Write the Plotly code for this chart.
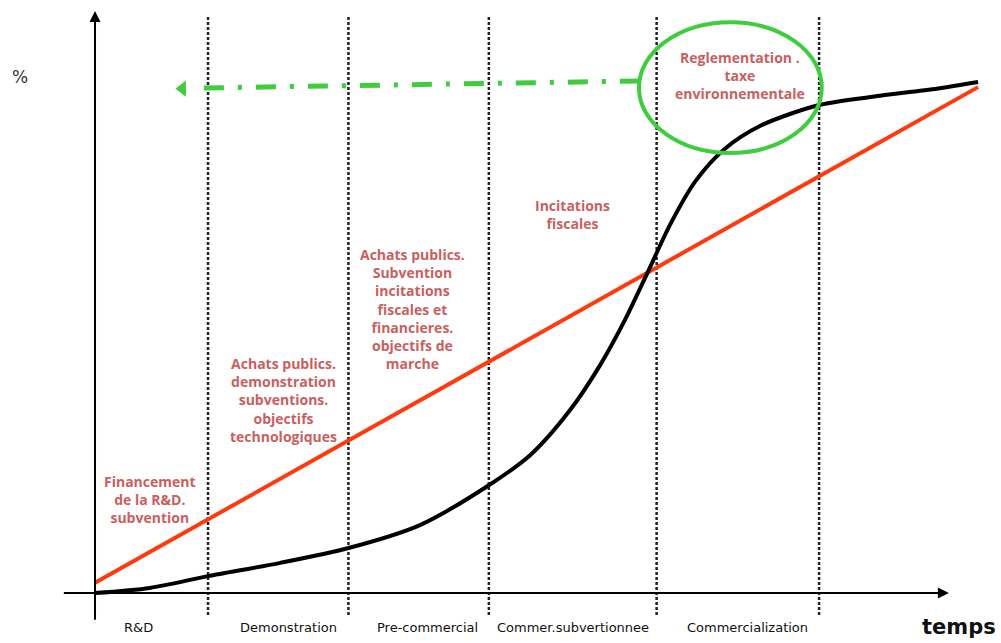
import plotly.graph_objects as go

# time axis (arbitrary units, 0 = origin, 10 = right end of curves)
stage_bounds = [1.28, 2.87, 4.46, 6.36, 8.2]
stage_names = ["R&D", "Demonstration", "Pre-commercial", "Commer.subvertionnee", "Commercialization"]

# straight red line (start / end)
line_t = [0, 10]
line_pct = [2, 99]

# black S-curve
curve_t = [0, 0.62, 1.28, 2.1, 2.87, 3.68, 4.46, 4.93, 5.38, 5.72, 6.0,
           6.26, 6.51, 6.8, 7.13, 7.53, 8.2, 8.89, 9.57, 10]
curve_pct = [0, 1, 3.3, 5.9, 8.8, 13.3, 21.1, 27, 35.8, 44.6, 53.4,
             62.8, 72, 80.6, 86.9, 91.4, 95.5, 97.3, 98.8, 100]

policies = [
    "Financement<br>de la R&D.<br>subvention",
    "Achats publics.<br>demonstration<br>subventions.<br>objectifs<br>technologiques",
    "Achats publics.<br>Subvention<br>incitations<br>fiscales et<br>financieres.<br>objectifs de<br>marche",
    "Incitations<br>fiscales",
    "Reglementation .<br>taxe<br>environnementale",
]

TXT = "#c95f5f"
GREEN = "#3fcc3f"

fig = go.Figure()

# dotted stage separators
for b in stage_bounds:
    fig.add_trace(go.Scatter(
        x=[b, b], y=[-4.3, 113.1], mode="lines",
        line=dict(color="#222", width=2.5, dash="3px,2px"),
        showlegend=False, hoverinfo="skip",
    ))

fig.add_trace(go.Scatter(
    x=line_t, y=line_pct, mode="lines",
    line=dict(color="#ff3a10", width=4),
    showlegend=False, hoverinfo="skip",
))
fig.add_trace(go.Scatter(
    x=curve_t, y=curve_pct, mode="lines",
    line=dict(color="black", width=4, shape="spline", smoothing=0.8),
    showlegend=False, hoverinfo="skip",
))

# green dash-dot arrow out of the ellipse
fig.add_trace(go.Scatter(
    x=[6.17, 1.10], y=[100.2, 98.8], mode="lines",
    line=dict(color=GREEN, width=5, dash="20px,14px,4px,14px"),
    showlegend=False, hoverinfo="skip",
))
fig.add_trace(go.Scatter(
    x=[0.99], y=[98.7], mode="markers",
    marker=dict(symbol="triangle-left", size=14, color=GREEN),
    showlegend=False, hoverinfo="skip",
))

fig.add_shape(type="circle", x0=6.16, x1=8.23, y0=86.1, y1=111.7,
              line=dict(color=GREEN, width=4))

# axes with arrows
fig.add_annotation(x=9.67, y=0, ax=-0.37, ay=0, xref="x", yref="y", axref="x", ayref="y",
                   showarrow=True, arrowhead=2, arrowsize=1.1, arrowwidth=2, arrowcolor="black", text="")
fig.add_annotation(x=0, y=113.9, ax=0, ay=-5.5, xref="x", yref="y", axref="x", ayref="y",
                   showarrow=True, arrowhead=2, arrowsize=1.1, arrowwidth=2, arrowcolor="black", text="")

# policy texts
pos = [(0.62, 18.4), (2.13, 37.8), (3.6, 55.6), (5.41, 74), (7.3, 101.2)]
for (px, py), txt in zip(pos, policies):
    fig.add_annotation(x=px, y=py, text=f"<b>{txt}</b>", showarrow=False,
                       font=dict(family="Open Sans", size=14, color=TXT), align="center")

# stage names under the axis
label_x = [0.49, 2.19, 3.77, 5.41, 7.39]
for lx, name in zip(label_x, stage_names):
    fig.add_annotation(x=lx, y=-6.7, text=name, showarrow=False,
                       font=dict(family="DejaVu Sans", size=13, color="#111"))

fig.add_annotation(x=9.78, y=-6.6, text="<b>temps</b>", showarrow=False,
                   font=dict(family="DejaVu Sans", size=21, color="#111"))
fig.add_annotation(x=-0.85, y=101, text="%", showarrow=False,
                   font=dict(family="DejaVu Sans", size=17, color="#333"))

fig.update_layout(
    width=1001, height=643,
    margin=dict(l=0, r=0, t=0, b=0),
    paper_bgcolor="white", plot_bgcolor="white",
    xaxis=dict(range=[-1.076, 10.26], visible=False, fixedrange=True),
    yaxis=dict(range=[-9.78, 116.05], visible=False, fixedrange=True),
)

fig.write_html(
    "out.html",
    config={"displayModeBar": False},
    post_script="document.body.style.margin='0';document.body.style.overflow='hidden';",
)
